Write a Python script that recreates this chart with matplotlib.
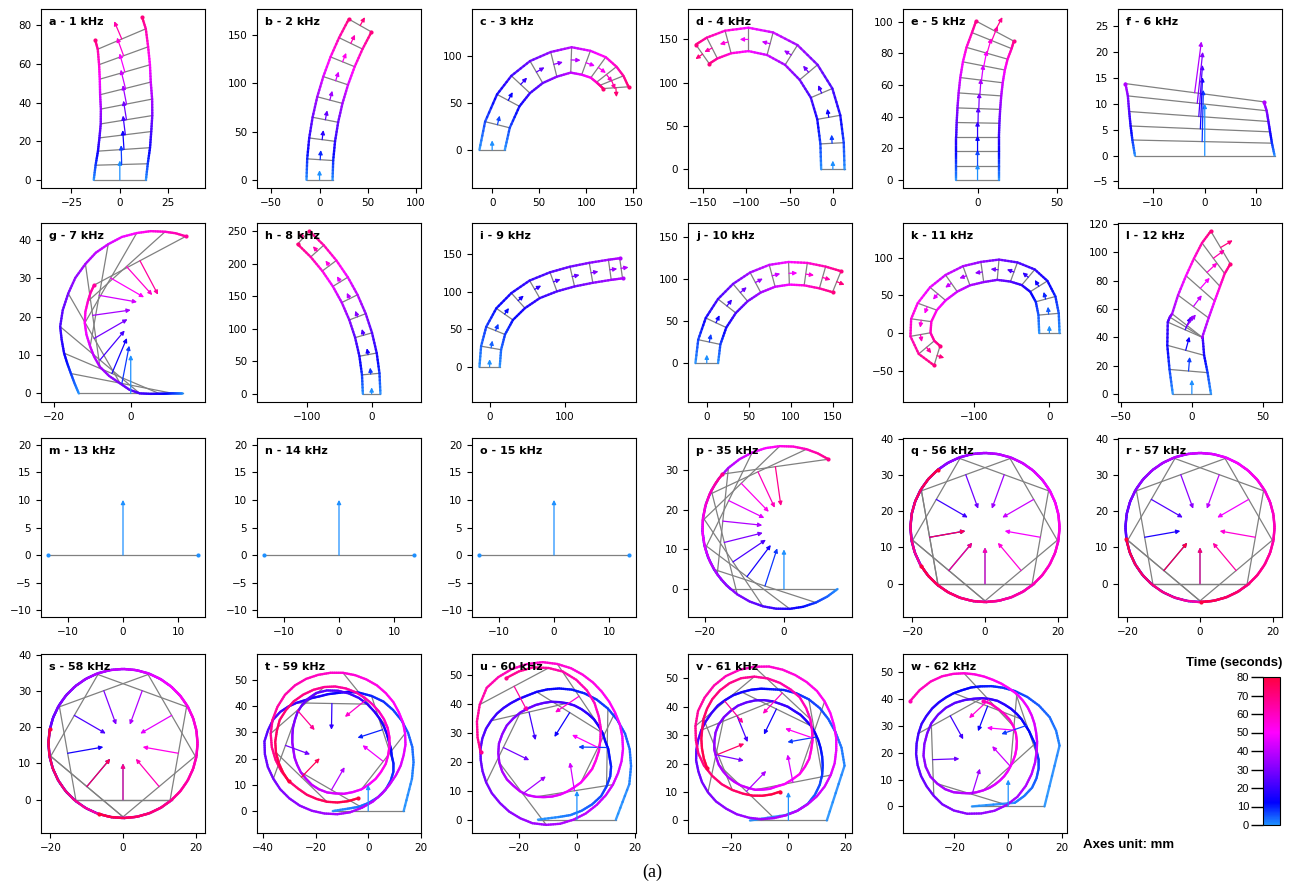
import numpy as np
import matplotlib
matplotlib.use("Agg")
import matplotlib.pyplot as plt
from matplotlib.colors import LinearSegmentedColormap, Normalize
from matplotlib.collections import LineCollection
from matplotlib.colorbar import ColorbarBase
from matplotlib.ticker import MaxNLocator

# ---------------------------------------------------------------- data
TITLES = ["a - 1 kHz", "b - 2 kHz", "c - 3 kHz", "d - 4 kHz", "e - 5 kHz", "f - 6 kHz",
          "g - 7 kHz", "h - 8 kHz", "i - 9 kHz", "j - 10 kHz", "k - 11 kHz", "l - 12 kHz",
          "m - 13 kHz", "n - 14 kHz", "o - 15 kHz", "p - 35 kHz", "q - 56 kHz", "r - 57 kHz",
          "s - 58 kHz", "t - 59 kHz", "u - 60 kHz", "v - 61 kHz", "w - 62 kHz"]
W_HALF = 13.5          # half distance between the two tracked edges (mm)
ARROW_LEN = 10.0       # heading arrow length (mm)
T_MAX = 80
CB_TICKS = [0, 10, 20, 30, 40, 50, 60, 70, 80]
START = (0.0, 0.0, 90.0)   # every run starts at origin heading +y

# duration of each run (s) and sampling of drawn axles / arrows
T_END = [70, 70, 72, 70, 68, 38, 65, 70, 38, 70, 70, 70, 0, 0, 0, 68, 80, 80, 80, 80, 68, 80, 62]
MARK_STEP = [1, 1, 1, 1, 1, 1, 2, 1, 1, 1, 1, 1, 1, 1, 1, 2, 4, 4, 4, 8, 6, 6, 6]
SKIP_END = ["a"]

# cartesian key poses: centre x, y (mm), heading (deg)
A_X = [0, 0.95, 2.15, 2.85, 3.45, 3.45, 2.9, 2.6, 1.95, 1.0, -0.6]
A_Y = [0, 7.95, 15.75, 23.35, 31.1, 39.2, 47.3, 55.8, 64.2, 72.85, 78.25]
A_H = [90, 91.6, 93.8, 97, 99.2, 101, 104, 106, 110, 113, 116]

B_X = [0, 0.67, 2.69, 6.04, 10.7, 16.7, 23.9, 32.4, 42.1]
B_Y = [0, 20.9, 41.7, 62.3, 82.7, 102.8, 122.4, 141.5, 160.0]
B_H = [90, 86.3, 82.6, 78.9, 75.3, 71.6, 67.9, 64.2, 60.5]

C_X = [0, 5.6, 17.1, 30.3, 47, 65.5, 84, 99.8, 112.8, 121.5, 127, 131.5]
C_Y = [0, 26.6, 52.5, 69.4, 82.6, 90.8, 95.5, 92.5, 87.5, 80, 73.5, 66]
C_H = [90, 76, 62, 47, 30, 14, -2, -20, -36, -52, -68, -86]

D_X = [0, -0.9, -4.7, -13, -28, -48, -72.5, -97.5, -121, -139.5, -150.5]
D_Y = [0, 30, 60, 88, 112, 132, 145, 150, 147, 140, 133]
D_H = [90, 93, 100, 113, 130, 148, 165, 180, 195, 207, 215]

E_X = [0, 0, 0, 0, 0.3, 0.8, 1.5, 2.5, 4, 6, 9, 11]
E_Y = [0, 9, 18, 27, 36, 45, 54, 63, 72, 80, 88, 94]
E_H = [90, 90, 90, 90, 89, 88, 86, 83, 79, 74, 68, 62]

F_X = [0, -0.5, -0.85, -1.15, -1.45, -1.95]
F_Y = [0, 2.7, 5.15, 7.55, 10.1, 12.15]
F_H = [90, 88.7, 87.6, 85.9, 83.9, 82.5]

G_X = [0, -1.15, -2.3, -3.6, -4.9, -6.45, -8, -9.0, -9.5, -10.0, -9.9, -9.3, -8.2, -6.9,
       -5.2, -3.3, -1.1, 0.6, 2.4]
G_Y = [0, 1.3, 2.6, 3.9, 5.2, 6.95, 8.7, 11.3, 14.3, 17.3, 20.3, 23.1, 25.5, 28.0, 30,
       31.7, 33, 33.9, 34.5]
G_H = [90, 84.5, 79, 73, 67, 58.5, 50, 40, 30, 19, 8, -1, -10, -20, -30, -39, -48, -55, -62]

H_X = [0, -1.4, -5.5, -12.4, -21.7, -33.8, -48.1, -65.0, -83.6, -104.7]
H_Y = [0, 30.4, 60.3, 90.1, 118.4, 146.3, 172.2, 196.9, 219.4, 240.1]
H_H = [90, 95.2, 100.4, 105.6, 110.8, 116.2, 121.5, 126.8, 132, 137.5]

I_X = [0, 2, 8, 20, 38, 60, 85, 110, 135, 160, 175]
I_Y = [0, 25, 48, 70, 88, 103, 113, 120, 125, 129, 131]
I_H = [90, 80, 68, 55, 42, 30, 20, 13, 10, 8, 8]

J_X = [0, 3, 11, 24, 40, 58, 78, 98, 118, 138, 155]
J_Y = [0, 25, 48, 68, 84, 96, 104, 107, 106, 102, 97]
J_H = [90, 78, 65, 52, 40, 28, 15, 2, -8, -16, -22]

K_X = [0, -1, -5, -14, -28, -47, -68, -89, -110, -130, -148, -162, -170, -171, -163, -149]
K_Y = [0, 25, 45, 62, 74, 81, 84, 81, 76, 66, 52, 35, 17, -2, -19, -30]
K_H = [90, 95, 105, 122, 140, 160, 175, 188, 200, 215, 230, 250, 262, 280, 310, 343]

L_X = [0, -2.35, -4.35, -4.7, -4.15, -3.34, 1.05, 6, 10.7, 15.2, 20.3]
L_Y = [0, 16.15, 30.8, 45.3, 47.15, 48.31, 61.75, 74.6, 85.9, 95.9, 103.5]
L_H = [90, 85.2, 74.8, 66.2, 58, 52, 53.3, 48.6, 43, 36.5, 30.7]

M_X, M_Y, M_H = [0], [0], [90]
N_X, N_Y, N_H = [0], [0], [90]
O_X, O_Y, O_H = [0], [0], [90]

# orbit key poses (after START): orbit centre, angle (deg), radius (mm),
# heading offset from the inward direction (deg)
P_C = (0, 15.5)
P_PHI = [-99, -108, -117.5, -127, -136.5, -146, -156, -166, -176, -186, -196, -206,
         -216, -226, -235.5, -245, -253.5, -262]
P_R, P_OFF = 15.5, 0

Q_C = (0, 15.5)
Q_PHI = [-100, -110, -120, -130, -140, -150, -160, -170, -180, -190, -200, -210, -220,
         -230, -240, -250, -260, -270, -280, -290, -300, -310, -320, -330, -340, -350,
         -360, -370, -380, -390, -400, -410, -420, -430, -440, -450, -460, -470, -480,
         -490, -500, -510, -520, -530, -540, -550]
Q_R, Q_OFF = 15.5, 0

R_C = (0, 15.5)
R_PHI = [-100, -110, -120, -130, -140, -150, -160, -170, -180, -190, -200, -210, -220,
         -230, -240, -250, -260, -270, -280, -290, -300, -310, -320, -330, -340, -350,
         -360, -370, -380, -390, -400, -410, -420, -430, -440, -450, -460, -470, -480, -490]
R_R, R_OFF = 15.5, 0

S_C = (0, 15.5)
S_PHI = [-100, -110, -120, -130, -140, -150, -160, -170, -180, -190, -200, -210, -220,
         -230, -240, -250, -260, -270, -280, -290, -300, -310, -320, -330, -340, -350,
         -360, -370, -380, -390, -400, -410, -420, -430, -440, -450, -460, -470, -480,
         -490, -500, -510]
S_R, S_OFF = 15.5, 0

T_C = (-11, 25)
T_PHI = [-50, -40, -30, -20, -10, 0, 10, 20, 30, 40, 50, 60, 70, 80, 90, 100, 110, 120,
         130, 140, 150, 160, 170, 180, 190, 200, 210, 220, 230, 240, 250, 260, 270, 280,
         290, 300, 310, 320, 330, 340, 350, 360, 370, 380, 390, 400, 410, 420, 430, 440,
         450, 460, 470, 480, 490, 500, 510, 520, 530, 540, 550, 560, 570, 580, 590, 600, 610]
T_R = [24, 23.2, 22.5, 21.8, 21, 20, 19, 17.5, 16, 15,
       14, 13.8, 13.8, 14.3, 15, 16.2, 17.5, 18.8, 20, 20.8,
       21.5, 21.3, 21, 20.5, 20, 19.5, 19, 18.5, 18, 17.8,
       17.5, 17.2, 17, 16.9, 16.8, 16.9, 17, 17.2, 17.5, 17.8,
       18, 18.2, 18.5, 18.8, 19, 19.2, 19.5, 19.8, 20, 20.2,
       20.5, 20.8, 21, 21, 21, 20.8, 20.5, 20.2, 20, 19.8,
       19.5, 19.2, 19, 18.8, 18.5, 18.2, 18]
T_OFF = [-15, -11, -8, -5, -3, -2, -2, -2, -3, -3,
         -3, -4, -5, -7, -9, -11, -13, -15, -16, -16,
         -17, -18, -19, -20, -22, -23, -24, -24, -24, -23,
         -22, -20, -19, -17, -16, -16, -17, -17, -18, -18,
         -19, -19, -20, -20, -21, -21, -21, -21, -21, -21,
         -21, -20, -18, -15, -12, -9, -6, -3, 0, 2,
         5, 5, 6, 6, 6, 6, 6]

U_C = (-9.5, 25)
U_PHI = [-50, -40, -30, -20, -10, 0, 10, 20, 30, 40, 50, 60, 70, 80, 90, 100, 110, 120,
         130, 140, 150, 160, 170, 180, 190, 200, 210, 220, 230, 240, 250, 260, 270, 280,
         290, 300, 310, 320, 330, 340, 350, 360, 370, 380, 390, 400, 410, 420, 430, 440,
         450, 460, 470, 480, 490, 500, 510]
U_R = [24, 23.2, 22.5, 21.8, 21, 20, 19, 17.8, 16.5, 15.5,
       14.5, 14, 13.5, 13.5, 13.5, 13.7, 14, 14.2, 14.5, 14.8,
       15, 15.2, 15.5, 16, 16.5, 17, 17.5, 18, 18.4, 18.5,
       18.5, 18.3, 18, 17.8, 17.6, 17.3, 17, 16.9, 16.8, 16.7,
       16.7, 16.8, 17, 17.5, 18, 18.7, 19.5, 20.5, 21.5, 22.5,
       23.5, 24.3, 25, 24.5, 24, 23.2, 22.5]
U_OFF = [-15, -11, -8, -5, -2, -1, 0, 0, -1, -1,
         -2, -2, -3, -5, -8, -11, -14, -17, -20, -22,
         -24, -25, -26, -26, -26, -25, -25, -24, -24, -23,
         -22, -21, -21, -20, -20, -21, -22, -23, -24, -25,
         -26, -26, -27, -27, -28, -28, -28, -26, -24, -20,
         -16, -12, -8, -2, 4, 8, 11]

V_C = (-9, 26)
V_PHI = [-40, -30, -20, -10, 0, 10, 20, 30, 40, 50, 60, 70, 80, 90, 100, 110, 120, 130,
         140, 150, 160, 170, 180, 190, 200, 210, 220, 230, 240, 250, 260, 270, 280, 290,
         300, 310, 320, 330, 340, 350, 360, 370, 380, 390, 400, 410, 420, 430, 440, 450,
         460, 470, 480, 490, 500, 510, 520, 530, 540, 550, 560, 570, 580, 590, 600]
V_R = [24, 23, 22, 21, 20, 18.8, 17.5, 16.3, 15.2, 14.7,
       14.3, 14, 13.8, 13.7, 13.6, 13.6, 13.7, 14.1, 14.5, 15,
       15.5, 15.9, 16.3, 16.7, 17, 17, 17, 17, 16.9, 16.8,
       16.7, 16.7, 16.6, 16.6, 16.5, 16.5, 16.4, 16.3, 16.3, 16.6,
       17, 17.6, 18, 18.3, 18.5, 19, 19.5, 20, 20.5, 21,
       21, 21, 21, 20.7, 20.3, 19.8, 19, 18, 17, 16,
       15, 14.5, 14, 13.7, 13.5]
V_OFF = [-10, -5, -1, 0, 0, 0, 0, 0, 0, -2,
         -4, -6, -9, -11, -14, -15, -17, -18, -19, -20,
         -21, -21, -22, -22, -22, -22, -23, -23, -24, -24,
         -25, -26, -27, -28, -29, -29, -30, -30, -31, -30,
         -30, -29, -29, -28, -28, -27, -26, -23, -20, -16,
         -13, -9, -5, 0, 4, 6, 8, 10, 11, 12,
         12, 12, 12, 12, 12]

W_C = (-10, 24)
W_PHI = [-30, -20, -10, 0, 10, 20, 30, 40, 50, 60, 70, 80, 90, 100, 110, 120, 130, 140,
         150, 160, 170, 180, 190, 200, 210, 220, 230, 240, 250, 260, 270, 280, 290, 300,
         310, 320, 330, 340, 350, 360, 370, 380, 390, 400, 410, 420, 430, 440, 450, 460,
         470, 480, 490]
W_R = [24, 23.3, 22.5, 21, 19.5, 18, 16.5, 15.5, 14.5, 14,
       13.5, 13.5, 13.5, 13.7, 14, 14.4, 14.8, 15.1, 15.5, 16.2,
       17, 17.8, 18.5, 19.3, 20, 20.5, 20.8, 20.7, 20.5, 19.8,
       19, 17.8, 16.5, 15.5, 14.6, 14, 13.5, 13.2, 13, 12.9,
       12.8, 12.8, 12.8, 13.1, 13.5, 14.2, 15, 15.9, 16.8, 17.7,
       18.5, 19.3, 20]
W_OFF = [-8, -6, -4, -2, -1, -1, -2, -3, -5, -7,
         -9, -11, -13, -15, -17, -18, -20, -21, -22, -22,
         -21, -20, -19, -18, -18, -16, -13, -10, -8, -7,
         -6, -5, -5, -5, -6, -8, -10, -13, -16, -19,
         -22, -25, -27, -29, -31, -33, -35, -37, -39, -41,
         -42, -41, -40]

# ---------------------------------------------------------------- helpers
CMAP = LinearSegmentedColormap.from_list(
    "time", [(0.0, "#1e90ff"), (0.15, "#0000ff"), (0.4, "#8c00ff"),
             (0.625, "#ff00ff"), (1.0, "#ff0040")])
NORM = Normalize(0, T_MAX)
SUB = 6
TICK_STEPS = [1, 2, 2.5, 5, 10]


def cart(x, y, h):
    return np.asarray(x, float), np.asarray(y, float), np.asarray(h, float)


def polar(c, phi, r, off):
    phi = np.asarray(phi, float)
    r = np.broadcast_to(np.asarray(r, float), phi.shape)
    off = np.broadcast_to(np.asarray(off, float), phi.shape)
    x = c[0] + r * np.cos(np.radians(phi))
    y = c[1] + r * np.sin(np.radians(phi))
    h = phi + 180.0 + off
    return np.r_[START[0], x], np.r_[START[1], y], np.r_[START[2], h]


POSES = [cart(A_X, A_Y, A_H), cart(B_X, B_Y, B_H), cart(C_X, C_Y, C_H),
         cart(D_X, D_Y, D_H), cart(E_X, E_Y, E_H), cart(F_X, F_Y, F_H),
         cart(G_X, G_Y, G_H), cart(H_X, H_Y, H_H), cart(I_X, I_Y, I_H),
         cart(J_X, J_Y, J_H), cart(K_X, K_Y, K_H), cart(L_X, L_Y, L_H),
         cart(M_X, M_Y, M_H), cart(N_X, N_Y, N_H), cart(O_X, O_Y, O_H),
         polar(P_C, P_PHI, P_R, P_OFF), polar(Q_C, Q_PHI, Q_R, Q_OFF),
         polar(R_C, R_PHI, R_R, R_OFF), polar(S_C, S_PHI, S_R, S_OFF),
         polar(T_C, T_PHI, T_R, T_OFF), polar(U_C, U_PHI, U_R, U_OFF),
         polar(V_C, V_PHI, V_R, V_OFF), polar(W_C, W_PHI, W_R, W_OFF)]


def draw(ax, X, Y, H, t_end, step, skip_end, title):
    n = len(X)
    t = np.zeros(n) if n == 1 else t_end * np.arange(n) / (n - 1)
    hr = np.radians(H)
    nx, ny = -np.sin(hr), np.cos(hr)
    LX, LY = X + W_HALF * nx, Y + W_HALF * ny
    RX, RY = X - W_HALF * nx, Y - W_HALF * ny
    marks = list(range(0, n, step))
    if skip_end and marks[-1] == n - 1:
        marks = marks[:-1]
    for i in marks:
        ax.plot([LX[i], RX[i]], [LY[i], RY[i]], color="#808080", lw=0.9, zorder=1)
    if n > 1:
        segs, tc = [], []
        fr = np.linspace(0, 1, SUB + 1)
        for i in range(n - 1):
            for wx, wy in ((LX, LY), (RX, RY)):
                px = wx[i] + (wx[i + 1] - wx[i]) * fr
                py = wy[i] + (wy[i + 1] - wy[i]) * fr
                for j in range(SUB):
                    segs.append(((px[j], py[j]), (px[j + 1], py[j + 1])))
                    tc.append(t[i] + (t[i + 1] - t[i]) * (j + 0.5) / SUB)
        tc = np.array(tc)
        order = np.argsort(tc, kind="stable")
        lc = LineCollection([segs[k] for k in order], colors=CMAP(NORM(tc[order])),
                            linewidths=1.7, capstyle="round", joinstyle="round",
                            alpha=0.9, zorder=2)
        ax.add_collection(lc)
    ax.scatter([LX[-1], RX[-1]], [LY[-1], RY[-1]], s=9, color=CMAP(NORM(t[-1])),
               linewidths=0, zorder=4)
    tips = []
    for i in marks:
        tx = X[i] + ARROW_LEN * np.cos(hr[i])
        ty = Y[i] + ARROW_LEN * np.sin(hr[i])
        ax.annotate("", xy=(tx, ty), xytext=(X[i], Y[i]),
                    arrowprops=dict(arrowstyle="-|>", color=CMAP(NORM(t[i])), lw=0.9,
                                    shrinkA=0, shrinkB=0, mutation_scale=6), zorder=3)
        tips.append((tx, ty))
    pts = np.r_[np.c_[LX, LY], np.c_[RX, RY], np.array(tips).reshape(-1, 2)]
    ax.update_datalim(pts)
    ax.set_aspect("equal", adjustable="datalim")
    ax.xaxis.set_major_locator(MaxNLocator(nbins=4, steps=TICK_STEPS))
    ax.yaxis.set_major_locator(MaxNLocator(nbins=7, steps=TICK_STEPS))
    ax.autoscale_view()
    ax.tick_params(labelsize=7.5, length=3.5, width=0.8)
    ax.text(0.05, 0.925, title, transform=ax.transAxes, fontsize=8, fontweight="bold",
            ha="left", va="center", zorder=6)


# ---------------------------------------------------------------- figure
FW, FH = 1296, 886
fig = plt.figure(figsize=(FW / 100, FH / 100), dpi=100)
COL_L = [41, 257, 472, 688, 903, 1118]
ROW_T = [9, 223, 438, 654]
AW, AH = 164, 179

for k, (title, (X, Y, H)) in enumerate(zip(TITLES, POSES)):
    r, c = divmod(k, 6)
    ax = fig.add_axes([COL_L[c] / FW, 1 - (ROW_T[r] + AH) / FH, AW / FW, AH / FH])
    draw(ax, X, Y, H, T_END[k], MARK_STEP[k], title[0] in SKIP_END, title)

cax = fig.add_axes([1263 / FW, 1 - 825 / FH, 17 / FW, 148 / FH])
cb = ColorbarBase(cax, cmap=CMAP, norm=NORM, ticks=CB_TICKS)
cax.yaxis.set_ticks_position("left")
cax.yaxis.set_label_position("left")
cax.tick_params(length=9, width=1, labelsize=8, pad=1)
for lab in cax.get_yticklabels():
    lab.set_family("Liberation Sans")
fig.text(1282 / FW, 1 - 663 / FH, "Time (seconds)", ha="right", va="center",
         fontsize=9.5, fontweight="bold", family="Liberation Sans")
fig.text(1083 / FW, 1 - 845 / FH, "Axes unit: mm", ha="left", va="center",
         fontsize=9.5, fontweight="bold", family="Liberation Sans")
fig.text(652 / FW, 1 - 872 / FH, "(a)", ha="center", va="center",
         fontsize=13, family="Liberation Serif")

fig.savefig("out.png", dpi=100)
